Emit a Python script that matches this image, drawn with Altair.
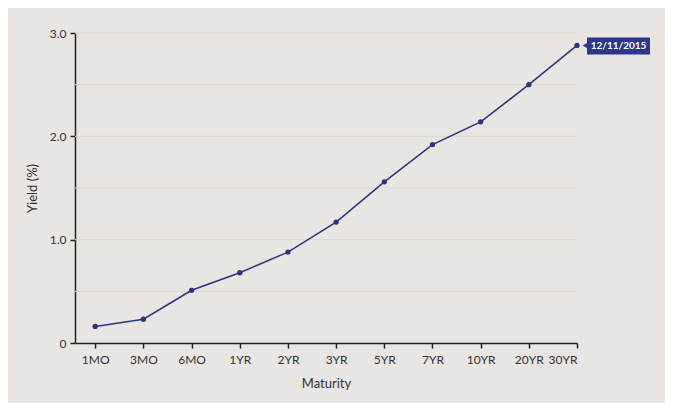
import altair as alt
import pandas as pd

maturities = ["1MO", "3MO", "6MO", "1YR", "2YR", "3YR", "5YR", "7YR", "10YR", "20YR", "30YR"]
yields = [0.16, 0.23, 0.51, 0.68, 0.88, 1.17, 1.56, 1.92, 2.14, 2.50, 2.88]
grid_values = [0.5, 1.0, 1.5, 2.0, 2.5, 3.0]
label_text = "12/11/2015"

df = pd.DataFrame({"idx": list(range(len(maturities))), "maturity": maturities, "yield": yields})
grid_df = pd.DataFrame({"g": grid_values})
last = df.iloc[[-1]].assign(label=label_text)

label_expr = "[" + ",".join(f"'{m}'" for m in maturities) + "][datum.value]"

xscale = alt.Scale(domain=[-0.42, len(maturities) - 1], nice=False, zero=False)
yscale = alt.Scale(domain=[0, 3.0], nice=False)

FONT = "Lato"
LINE = "#2c3380"

grid = alt.Chart(grid_df).mark_rule(color="#dcd7d2", strokeWidth=1).encode(
    y=alt.Y("g:Q", scale=yscale),
    x=alt.value(0),
    x2=alt.value(502),
)

line = alt.Chart(df).mark_line(color=LINE, strokeWidth=1.5).encode(
    x=alt.X("idx:Q", scale=xscale,
            axis=alt.Axis(values=list(range(len(maturities))), labelExpr=label_expr,
                          title="Maturity", grid=False, tickSize=5, labelPadding=6,
                          titlePadding=12)),
    y=alt.Y("yield:Q", scale=yscale,
            axis=alt.Axis(values=[0, 1, 2, 3], labelExpr="datum.value == 0 ? '0' : format(datum.value, '.1f')",
                          title="Yield (%)", grid=False, tickSize=5, labelPadding=4,
                          titlePadding=10)),
)

points = alt.Chart(df).mark_circle(color=LINE, size=28, opacity=1).encode(
    x=alt.X("idx:Q", scale=xscale),
    y=alt.Y("yield:Q", scale=yscale),
)

box = alt.Chart(last).mark_rect(color="#2b3788", xOffset=10, x2Offset=73, yOffset=-8, y2Offset=9).encode(
    x=alt.X("idx:Q", scale=xscale),
    x2="idx:Q",
    y=alt.Y("yield:Q", scale=yscale),
    y2="yield:Q",
)

pointer = alt.Chart(last).mark_point(shape="triangle-left", filled=True, color="#2b3788",
                                     opacity=1, size=30, xOffset=8).encode(
    x=alt.X("idx:Q", scale=xscale),
    y=alt.Y("yield:Q", scale=yscale),
)

text = alt.Chart(last).mark_text(color="white", font=FONT, fontSize=10, fontWeight="bold",
                                 align="center", baseline="middle", dx=41.5, dy=0.5).encode(
    x=alt.X("idx:Q", scale=xscale),
    y=alt.Y("yield:Q", scale=yscale),
    text="label:N",
)

chart = alt.layer(grid, line, points, box, pointer, text).properties(
    width=502,
    height=310,
    background="#e9e5e2",
    autosize=alt.AutoSizeParams(type="none"),
    padding={"left": 67, "top": 25, "right": 88, "bottom": 60},
).configure_view(stroke=None).configure_axis(
    domainColor="#222222", domainWidth=1.5, tickColor="#222222", tickWidth=1.5,
    labelFont=FONT, labelFontSize=12, labelColor="#333333",
    titleFont=FONT, titleFontSize=13, titleColor="#333333", titleFontWeight="normal",
)

chart.save("out.html", embed_options={"renderer": "svg", "actions": False})
